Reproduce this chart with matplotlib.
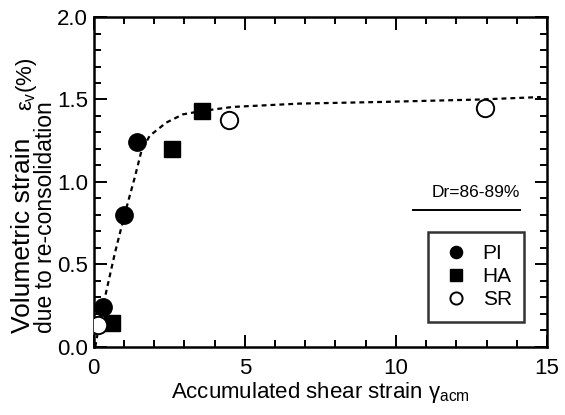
import matplotlib.pyplot as plt
from matplotlib.ticker import MultipleLocator

plt.rcParams['font.family'] = ['Liberation Sans', 'DejaVu Sans']
plt.rcParams['mathtext.fontset'] = 'custom'
plt.rcParams['mathtext.rm'] = 'Liberation Sans'
plt.rcParams['mathtext.it'] = 'Liberation Sans'

# measured points
pi_x = [0.3, 1.0, 1.42]
pi_y = [0.24, 0.80, 1.24]
ha_x = [0.6, 2.58, 3.57]
ha_y = [0.145, 1.20, 1.43]
sr_x = [0.13, 4.47, 12.95]
sr_y = [0.13, 1.376, 1.45]

# hand drawn trend curve
fit_x = [0.05, 0.2, 0.43, 0.7, 1.03, 1.36, 1.58, 1.85, 2.4, 2.95, 3.57, 4.6, 6.8, 9.5, 12.8, 14.8]
fit_y = [0.0, 0.16, 0.35, 0.57, 0.81, 1.03, 1.19, 1.28, 1.36, 1.41, 1.43, 1.455, 1.475, 1.485, 1.50, 1.515]

fig = plt.figure(figsize=(5.65, 4.15), dpi=100)
ax = fig.add_axes([0.166, 0.164, 0.802, 0.795])

ax.plot(fit_x, fit_y, 'k--', lw=1.6, dashes=(2.2, 1.8), zorder=1)
ax.plot(pi_x, pi_y, 'o', color='k', ms=12.5, ls='none', label='PI', zorder=3)
ax.plot(ha_x, ha_y, 's', color='k', ms=12, ls='none', label='HA', zorder=3)
ax.plot(sr_x, sr_y, 'o', mfc='white', mec='k', mew=1.4, ms=12.5, ls='none', label='SR', zorder=3)

ax.set_xlim(0, 15)
ax.set_ylim(0, 2.0)
ax.xaxis.set_major_locator(MultipleLocator(5))
ax.xaxis.set_minor_locator(MultipleLocator(1))
ax.yaxis.set_major_locator(MultipleLocator(0.5))
ax.yaxis.set_minor_locator(MultipleLocator(0.1))
ax.yaxis.set_major_formatter(plt.FormatStrFormatter('%.1f'))
ax.tick_params(which='both', direction='in', top=True, right=True, width=1.4, labelsize=16)
ax.tick_params(which='major', length=9)
ax.tick_params(which='minor', length=5)
ax.tick_params(axis='x', pad=8)
ax.tick_params(axis='y', pad=4)
for s in ax.spines.values():
    s.set_linewidth(1.8)

ax.set_xlabel(r'Accumulated shear strain $\gamma_{\rm acm}$', fontsize=16, labelpad=1)

# y label: two lines, first one in a larger size
fig.text(0.040, 0.198, 'Volumetric strain', rotation=90, ha='center', va='bottom', fontsize=19)
fig.text(0.047, 0.862, r'$\epsilon_{\rm v}$(%)', rotation=90, ha='center', va='top', fontsize=16)
fig.text(0.080, 0.198, 'due to re-consolidation', rotation=90, ha='center', va='bottom', fontsize=16.5)

ax.text(0.940, 0.445, 'Dr=86-89%', transform=ax.transAxes, fontsize=12.5, ha='right', va='bottom')
ax.plot([0.704, 0.940], [0.415, 0.415], transform=ax.transAxes, color='k', lw=1.4)

leg = ax.legend(loc='lower right', bbox_to_anchor=(0.95, 0.076), fontsize=15, frameon=True,
                fancybox=False, handletextpad=0.6, borderpad=0.6, labelspacing=0.2,
                handlelength=1.4, markerscale=0.7, borderaxespad=0)
leg.get_frame().set_edgecolor('k')
leg.get_frame().set_linewidth(1.8)

fig.savefig('out.png', dpi=100)
